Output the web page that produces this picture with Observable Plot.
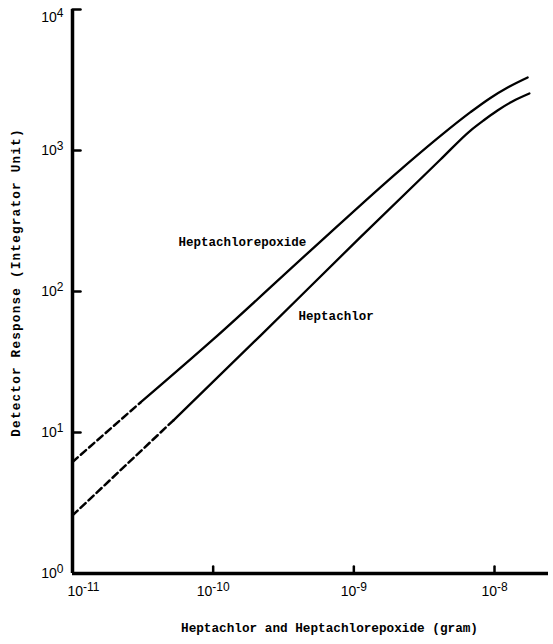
<!DOCTYPE html>
<html><head><meta charset="utf-8">
<script src="https://cdn.jsdelivr.net/npm/d3@7"></script>
<script src="https://cdn.jsdelivr.net/npm/@observablehq/plot@0.6"></script>
<style>
html,body{margin:0;padding:0;background:#fff;}
</style>
</head><body><div id="chart"></div>
<script>
// Tick values and labels
const xTicks = [1e-11, 1e-10, 1e-9, 1e-8];
const xTickLabels = ["10^-11", "10^-10", "10^-9", "10^-8"];
const yTicks = [1, 10, 100, 1000, 10000];
const yTickLabels = ["10^0", "10^1", "10^2", "10^3", "10^4"];

// Heptachlorepoxide (first segment is the dashed extrapolation)
const epoxideX = [1e-11, 3.04e-11, 1.0e-10, 4.92e-10, 2.15e-9, 4.13e-9, 6.75e-9, 9.35e-9, 1.24e-8, 1.72e-8];
const epoxideY = [6.18, 16.3, 45.7, 195, 733, 1270, 1870, 2360, 2798, 3296];
const epoxideSolidFrom = 1;

// Heptachlor (first segment is the dashed extrapolation)
const heptachlorX = [1e-11, 5.22e-11, 2.17e-10, 1.11e-9, 4.13e-9, 6.75e-9, 8.35e-9, 1.05e-8, 1.34e-8, 1.77e-8];
const heptachlorY = [2.58, 12.2, 48.7, 242, 863, 1386, 1633, 1922, 2227, 2537];
const heptachlorSolidFrom = 1;

// Inline series labels
const seriesLabels = ["Heptachlorepoxide", "Heptachlor"];
const seriesLabelX = [5.68e-11, 4.05e-10];
const seriesLabelY = [223, 66.5];

const xTitle = "Heptachlor and Heptachlorepoxide (gram)";
const yTitle = "Detector Response (Integrator Unit)";

const pts = (X, Y) => X.map((x, i) => ({x, y: Y[i]}));
const ep = pts(epoxideX, epoxideY);
const hp = pts(heptachlorX, heptachlorY);
const labels = seriesLabels.map((t, i) => ({t, x: seriesLabelX[i], y: seriesLabelY[i]}));

const mono = "'Liberation Mono', 'DejaVu Sans Mono', monospace";
const sans = "'Liberation Sans', Arial, sans-serif";

const xMin = xTicks[0], yMin = yTicks[0];
const tickShape = {draw(context, l) { context.moveTo(0, 0); context.lineTo(0, -l); }};

const plot = Plot.plot({
  width: 553, height: 644,
  marginLeft: 72, marginRight: 5, marginTop: 9, marginBottom: 71,
  x: {type: "log", domain: [1e-11, 2.42e-8], label: null},
  y: {type: "log", domain: [1, 1e4], label: null},
  style: {background: "white", color: "black", overflow: "visible"},
  marks: [
    Plot.line(ep.slice(0, epoxideSolidFrom + 1), {x: "x", y: "y", stroke: "black", strokeWidth: 2.5, strokeDasharray: "7,4"}),
    Plot.line(ep.slice(epoxideSolidFrom), {x: "x", y: "y", stroke: "black", strokeWidth: 2.3, curve: "monotone-x"}),
    Plot.line(hp.slice(0, heptachlorSolidFrom + 1), {x: "x", y: "y", stroke: "black", strokeWidth: 2.5, strokeDasharray: "7,4"}),
    Plot.line(hp.slice(heptachlorSolidFrom), {x: "x", y: "y", stroke: "black", strokeWidth: 2.3, curve: "monotone-x"}),
    Plot.text(labels, {x: "x", y: "y", text: "t", textAnchor: "start", fontFamily: mono, fontWeight: "bold", fontSize: 12.5, fill: "black"}),
    // inward tick marks
    Plot.vector(xTicks.slice(1), {x: d => d, y: () => yMin, rotate: 0, length: 7, anchor: "start", shape: tickShape, stroke: "black", strokeWidth: 2.5}),
    Plot.vector(yTicks.slice(1), {x: () => xMin, y: d => d, rotate: 90, length: 8, anchor: "start", shape: tickShape, stroke: "black", strokeWidth: 2.5}),
    Plot.axisX({ticks: xTicks, tickSize: 0, tickPadding: 13, label: null,
      tickFormat: d => xTickLabels[xTicks.indexOf(d)], fontFamily: sans, fontSize: 14}),
    Plot.axisY({ticks: yTicks, tickSize: 0, tickPadding: 9, label: null,
      tickFormat: d => yTickLabels[yTicks.indexOf(d)], fontFamily: sans, fontSize: 14}),
    Plot.ruleX([1e-11], {stroke: "black", strokeWidth: 3.5}),
    Plot.ruleY([1], {stroke: "black", strokeWidth: 3.5}),
    Plot.text([xTitle], {frameAnchor: "bottom", dy: 58, dx: 19, fontFamily: mono, fontWeight: "bold", fontSize: 12.7, fill: "black"}),
    Plot.text([yTitle], {frameAnchor: "left", textAnchor: "middle", rotate: -90, dx: -57, dy: -9, fontFamily: mono, fontWeight: "bold", fontSize: 12.7, fill: "black"})
  ]
});

// render exponents as superscripts; widen the y title
plot.querySelectorAll("text").forEach(t => {
  const s = t.textContent;
  if (s === yTitle) { t.setAttribute("letter-spacing", "1.2"); t.style.letterSpacing = "1.2px"; return; }
  const m = /^10\^(-?\d+)$/.exec(s);
  if (!m) return;
  t.textContent = "";
  t.appendChild(document.createTextNode("10"));
  const sp = document.createElementNS("http://www.w3.org/2000/svg", "tspan");
  sp.setAttribute("dy", "-0.45em");
  sp.setAttribute("font-size", "12");
  sp.textContent = m[1];
  t.appendChild(sp);
  if (s === "10^-11") { t.setAttribute("text-anchor", "start"); t.setAttribute("dx", "-5"); }
  if (s === "10^4") { t.setAttribute("dy", "8"); }
});

document.getElementById("chart").appendChild(plot);
</script>
</body></html>
